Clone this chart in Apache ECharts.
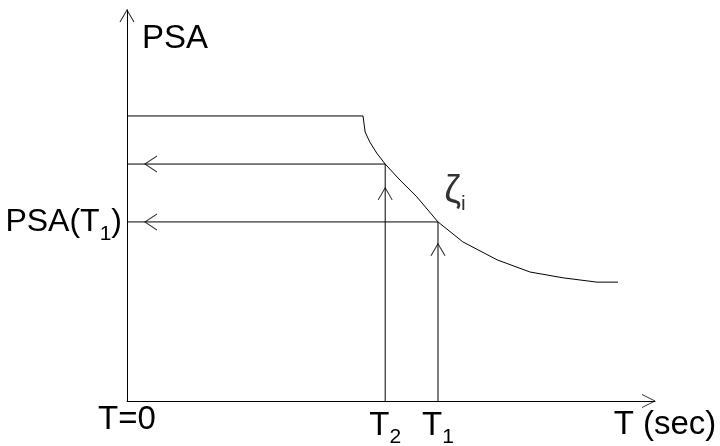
<!DOCTYPE html>
<html>
<head>
<meta charset="utf-8">
<script src="https://cdn.jsdelivr.net/npm/echarts@6/dist/echarts.min.js"></script>
<style>
  html, body { margin: 0; padding: 0; background: #fff; }
  #main { width: 720px; height: 446px; }
</style>
</head>
<body>
<div id="main"></div>
<script>
// spectrum curve (T in relative units 0-100, PSA in relative units 0-100)
const curveT   = [0, 44.7, 45.1, 46.0, 47.3, 48.9, 51.7, 54.9, 58.9, 63.6, 70.1, 76.3, 82.6, 89.0, 93.0];
const curvePSA = [72.9, 72.9, 68.8, 66.2, 63.4, 60.6, 56.5, 52.2, 45.8, 40.7, 36.1, 33.0, 31.5, 30.4, 30.4];

const T2 = 48.9, T1 = 58.9;
const psaT2 = 60.6, psaT1 = 45.8;

// where the small arrowheads sit on the guide lines
const leftArrows = [[3.4, psaT2], [3.4, psaT1]];
const upArrows = [[T2, 54.5], [T1, 40.2]];

const FONT = 'Liberation Sans, Arial, sans-serif';
const main = { fontSize: 33, fontFamily: FONT, color: '#000' };
const mainY = { fontSize: 32, fontFamily: FONT, color: '#000' };
// rich tokens are centred on the line, so top padding pushes the subscript down
const sub = { fontSize: 21, fontFamily: FONT, color: '#000', padding: [24, 0, 0, 0] };

const chart = echarts.init(document.getElementById('main'));

const line = { color: '#000', width: 1 };
const chevronLeft = 'path://M12,0 L0,8 L12,16';
const chevronUp = 'path://M0,14 L7,0 L14,14';
const chevronRight = 'path://M0,0 L13,6.5 L0,13';

chart.setOption({
  backgroundColor: '#fff',
  animation: false,
  grid: { left: 127, right: 65, top: 10, bottom: 45, outerBoundsMode: 'none' },
  xAxis: {
    type: 'value', min: 0, max: 100,
    axisLine: { lineStyle: line },
    axisTick: { show: false },
    splitLine: { show: false },
    name: 'T (sec)',
    nameLocation: 'end',
    nameGap: 10,
    nameTextStyle: { fontSize: 33, fontFamily: FONT, color: '#000', align: 'center', verticalAlign: 'top', padding: [7, 0, 0, 0] },
    axisLabel: {
      customValues: [0, T2, T1],
      margin: 2,
      color: '#000',
      fontSize: 33,
      fontFamily: FONT,
      formatter: function (v) {
        if (v === 0) return '{m|T=0}';
        if (v === T2) return '{m|T}{s|2}';
        return '{m|T}{s|1}';
      },
      rich: { m: main, s: sub }
    }
  },
  yAxis: {
    type: 'value', min: 0, max: 100,
    axisLine: { show: true, lineStyle: line },
    axisTick: { show: false },
    splitLine: { show: false },
    name: 'PSA',
    nameLocation: 'end',
    nameGap: -29,
    nameTextStyle: { fontSize: 33, fontFamily: FONT, color: '#000', align: 'left', verticalAlign: 'middle', padding: [0, 0, 0, 15] },
    axisLabel: {
      customValues: [psaT1],
      margin: 5,
      color: '#000',
      fontSize: 32,
      fontFamily: FONT,
      formatter: function () { return '{m|PSA(T}{s|1}{m|)}'; },
      rich: { m: mainY, s: sub }
    }
  },
  series: [
    {
      type: 'line', showSymbol: false, lineStyle: line,
      data: curveT.map((t, i) => [t, curvePSA[i]])
    },
    {
      type: 'line', showSymbol: false, lineStyle: line,
      data: [[0, psaT2], [T2, psaT2], [T2, 0]]
    },
    {
      type: 'line', showSymbol: false, lineStyle: line,
      data: [[0, psaT1], [T1, psaT1], [T1, 0]]
    },
    {
      type: 'scatter', clip: false, symbol: chevronLeft, symbolSize: [12, 16], symbolOffset: [6, 0],
      itemStyle: { color: 'transparent', borderColor: '#000', borderWidth: 1 },
      data: leftArrows
    },
    {
      type: 'scatter', clip: false, symbol: chevronUp, symbolSize: [14, 12], symbolOffset: [0, 6],
      itemStyle: { color: 'transparent', borderColor: '#000', borderWidth: 1 },
      data: upArrows.concat([[0, 100]])
    },
    {
      type: 'scatter', clip: false, symbol: chevronRight, symbolSize: [13, 13], symbolOffset: [-6.5, 0],
      itemStyle: { color: 'transparent', borderColor: '#000', borderWidth: 1 },
      data: [[100, 0]]
    },
    {
      type: 'scatter', clip: false, symbolSize: 0,
      data: [[62.1, 53.5]],
      label: {
        show: true, position: 'inside',
        formatter: '{z|ζ}{s|i}',
        rich: { z: { fontSize: 38, fontFamily: FONT, color: '#000' }, s: sub }
      }
    }
  ]
});
</script>
</body>
</html>
